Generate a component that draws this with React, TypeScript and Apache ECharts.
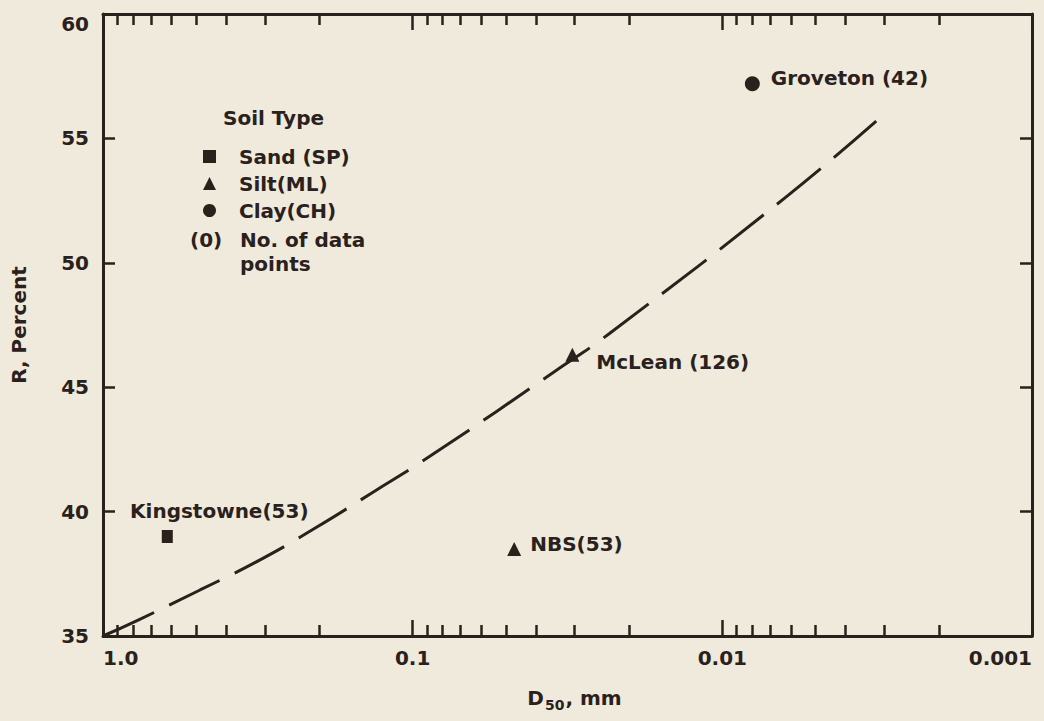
import React, { useEffect, useRef } from 'react';
import * as echarts from 'echarts';

const INK = '#2a211d';
const PAPER = '#efeadb';
const FONT = '"DejaVu Sans", "Liberation Sans", sans-serif';

// X axis (D50, mm) – log scale, reversed
const xTickValues = [1, 0.1, 0.01, 0.001];
const xTickLabels = ['1.0', '0.1', '0.01', '0.001'];
const xMinorTicks = [
  0.9, 0.8, 0.7, 0.6, 0.5, 0.4, 0.3, 0.2,
  0.09, 0.08, 0.07, 0.06, 0.05, 0.04, 0.03, 0.02,
  0.009, 0.008, 0.007, 0.006, 0.005, 0.004, 0.003, 0.002,
];
// Y axis (R, Percent)
const yMin = 35;
const yMax = 60;
const yStep = 5;

// Legend categories
const soilTypes = ['Sand (SP)', 'Silt(ML)', 'Clay(CH)'];
const soilSymbols = ['rect', 'triangle', 'circle'];

// Sites
const siteLabels = ['Kingstowne(53)', 'NBS(53)', 'McLean (126)', 'Groveton (42)'];
const siteSoil = [0, 1, 1, 2];
const siteD50 = [0.62, 0.047, 0.0305, 0.008];
const siteR = [39.0, 38.5, 46.3, 57.2];

// Dashed trend curve
const curveD50 = [1.0, 0.77, 0.486, 0.312, 0.207, 0.1355, 0.0873, 0.0328, 0.0232, 0.00622, 0.00303];
const curveR = [35.0, 35.64, 36.85, 38.05, 39.33, 40.75, 42.25, 45.85, 47.15, 52.65, 55.93];

// styling only
const symbolSizes: any[] = [[11, 13], 14, 15];
const labelPlacement: any[] = [
  { position: 'inside', offset: [52, -25] },
  { position: 'right', distance: 9, offset: [0, -5] },
  { position: 'right', distance: 17, offset: [0, 7] },
  { position: 'right', distance: 11, offset: [0, -6] },
];

const txt = { fontSize: 20, fontWeight: 'bold' as const, fontFamily: FONT, color: INK };

function fmtX(v: number) {
  let best = 0;
  let bd = Infinity;
  xTickValues.forEach((t, i) => {
    const d = Math.abs(Math.log10(v) - Math.log10(t));
    if (d < bd) {
      bd = d;
      best = i;
    }
  });
  return xTickLabels[best];
}

function buildOption(): any {
  const axisLine = { show: true, onZero: false, lineStyle: { color: INK, width: 3 } };
  const baseX = {
    type: 'log',
    logBase: 10,
    min: 0.001,
    max: 1,
    inverse: true,
    splitLine: { show: false },
  };
  const xAxes = [
    {
      ...baseX,
      position: 'bottom',
      axisLine,
      axisTick: { show: true, inside: true, length: 16, lineStyle: { color: INK, width: 2.5 } },
      axisLabel: {
        ...txt,
        margin: 12,
        formatter: fmtX,
        alignMinLabel: 'right',
        alignMaxLabel: 'left',
      },
      name: '{a|D}{b|50}{a|, mm}',
      nameLocation: 'middle',
      nameGap: 48,
      nameTextStyle: {
        padding: [0, 0, 0, 14],
        rich: {
          a: { ...txt },
          b: { ...txt, fontSize: 14, padding: [14, 1, 0, 1] },
        },
      },
    },
    {
      ...baseX,
      position: 'bottom',
      axisLine: { show: false },
      axisTick: { show: true, inside: true, length: 11, customValues: xMinorTicks, lineStyle: { color: INK, width: 2.5 } },
      axisLabel: { show: false },
    },
    {
      ...baseX,
      position: 'top',
      axisLine,
      axisTick: { show: true, inside: true, length: 16, lineStyle: { color: INK, width: 2.5 } },
      axisLabel: { show: false },
    },
    {
      ...baseX,
      position: 'top',
      axisLine: { show: false },
      axisTick: { show: true, inside: true, length: 11, customValues: xMinorTicks, lineStyle: { color: INK, width: 2.5 } },
      axisLabel: { show: false },
    },
  ];

  const yAxes = [
    {
      type: 'value',
      min: yMin,
      max: yMax,
      interval: yStep,
      position: 'left',
      axisLine,
      axisTick: { show: true, inside: true, length: 12, lineStyle: { color: INK, width: 2.5 } },
      axisLabel: { ...txt, margin: 14, verticalAlignMaxLabel: 'top' },
      splitLine: { show: false },
      name: 'R, Percent',
      nameLocation: 'middle',
      nameRotate: 90,
      nameGap: 74,
      nameTextStyle: { ...txt },
    },
    {
      type: 'value',
      min: yMin,
      max: yMax,
      interval: yStep,
      position: 'right',
      axisLine,
      axisTick: { show: true, inside: true, length: 12, lineStyle: { color: INK, width: 2.5 } },
      axisLabel: { show: false },
      splitLine: { show: false },
    },
  ];

  const scatterSeries = soilTypes.map((name, k) => ({
    type: 'scatter',
    name,
    xAxisIndex: 0,
    yAxisIndex: 0,
    symbol: soilSymbols[k],
    symbolSize: symbolSizes[k],
    itemStyle: { color: INK, opacity: 1 },
    emphasis: { disabled: true },
    z: 5,
    label: { show: true, ...txt },
    data: siteD50
      .map((d, i) => ({ i, d }))
      .filter(({ i }) => siteSoil[i] === k)
      .map(({ i, d }) => ({
        value: [d, siteR[i]],
        label: { show: true, ...txt, ...labelPlacement[i], formatter: siteLabels[i] },
      })),
  }));

  const curveSeries = {
    type: 'line',
    name: 'trend',
    xAxisIndex: 0,
    yAxisIndex: 0,
    smooth: 0.5,
    showSymbol: false,
    symbol: 'none',
    silent: true,
    z: 3,
    lineStyle: { color: INK, width: 3, type: [56, 17], cap: 'butt' },
    data: curveD50.map((d, i) => [d, curveR[i]]),
  };

  const gText = (x: number, y: number, text: string) => ({
    type: 'text',
    x,
    y,
    style: {
      text,
      fill: INK,
      fontSize: 20,
      fontWeight: 'bold',
      fontFamily: FONT,
      align: 'left',
      verticalAlign: 'middle',
    },
  });

  return {
    animation: false,
    backgroundColor: PAPER,
    grid: { left: 103, right: 12, top: 14, bottom: 85, containLabel: false },
    xAxis: xAxes,
    yAxis: yAxes,
    legend: {
      orient: 'vertical',
      left: 203,
      top: 143,
      padding: 0,
      itemGap: 0,
      itemWidth: 13,
      itemHeight: 13,
      selectedMode: false,
      itemStyle: { opacity: 1 },
      textStyle: { ...txt, lineHeight: 27, padding: [0, 0, 0, 18] },
      data: soilTypes.map((name, k) => ({ name, icon: soilSymbols[k] })),
    },
    graphic: [
      gText(223, 118, 'Soil Type'),
      gText(190, 240, '(0)'),
      gText(240, 240, 'No. of data'),
      gText(240, 264, 'points'),
    ],
    series: [curveSeries, ...scatterSeries],
  };
}

export default function App() {
  const ref = useRef<HTMLDivElement>(null);
  useEffect(() => {
    document.body.style.margin = '0';
    if (!ref.current) return;
    const chart = echarts.init(ref.current, null, { renderer: 'svg' });
    chart.setOption(buildOption());
    return () => chart.dispose();
  }, []);
  return <div ref={ref} style={{ width: 1044, height: 721 }} />;
}
